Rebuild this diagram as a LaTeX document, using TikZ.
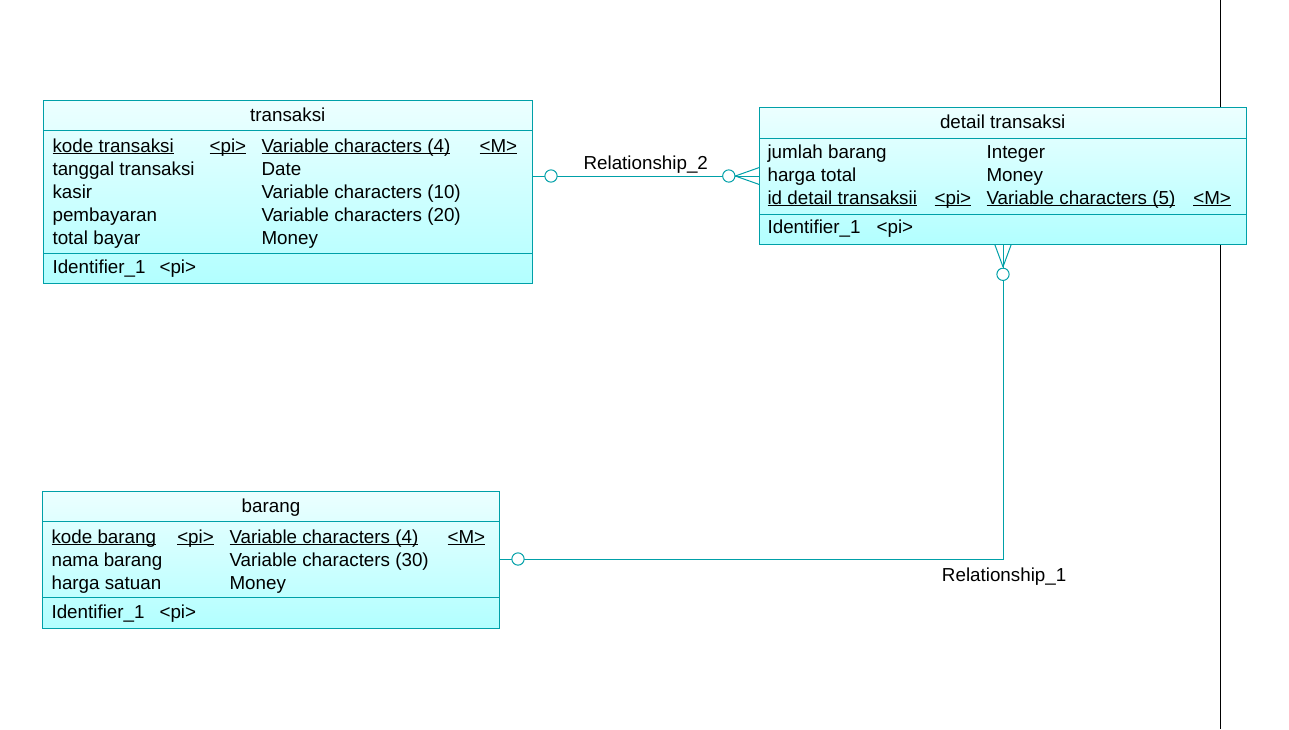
\documentclass[tikz,border=0pt]{standalone}
\usepackage{fontspec}
\setmainfont{Liberation Sans}
\usepackage{xcolor}
\usetikzlibrary{calc}

\definecolor{pdline}{RGB}{0,160,168}
\definecolor{pdtop}{RGB}{236,255,255}
\definecolor{pdbot}{RGB}{178,255,255}

\newcommand{\ulin}[1]{\setbox0\hbox{#1}\rlap{\rule[-1.6pt]{\wd0}{0.75pt}}\box0}

\tikzset{
  entity/.style={draw=pdline, line width=0.75pt, top color=pdtop, bottom color=pdbot},
  sepline/.style={draw=pdline, line width=0.75pt},
  rel/.style={draw=pdline, line width=0.75pt},
  knob/.style={draw=pdline, line width=0.75pt, fill=white},
  txt/.style={anchor=base west, inner sep=0pt, font=\fontsize{14.1}{16}\selectfont},
  ttl/.style={anchor=base, inner sep=0pt, font=\fontsize{14.1}{16}\selectfont},
}

\begin{document}
\begin{tikzpicture}[x=0.75pt,y=0.75pt,yscale=-1,xscale=1]
        \useasboundingbox (0,0) rectangle (1289,729);

        %Shape: Line [page border]
        \draw [line width=0.75pt] (1220.3,0) -- (1220.3,729) ;

        %Shape: Rectangle [transaksi]
        \draw [entity] (43.3,100.7) rectangle (532.3,283.3) ;
        \draw [sepline] (43.3,130.3) -- (532.3,130.3) ;
        \draw [sepline] (43.3,253.3) -- (532.3,253.3) ;
        % Text Node
        \node [ttl] (trTitle) at (287.8,121.7) {transaksi};
        \node [txt] (trA1) at (52.3,152.3) {\ulin{kode transaksi}};
        \node [txt] (trA1pi) at (209.3,152.3) {\ulin{<pi>}};
        \node [txt] (trA1t) at (261.3,152.3) {\ulin{Variable characters (4)}};
        \node [txt] (trA1m) at (479.3,152.3) {\ulin{<M>}};
        \node [txt] (trA2) at (52.3,175.3) {tanggal transaksi};
        \node [txt] (trA2t) at (261.3,175.3) {Date};
        \node [txt] (trA3) at (52.3,198.3) {kasir};
        \node [txt] (trA3t) at (261.3,198.3) {Variable characters (10)};
        \node [txt] (trA4) at (52.3,221.3) {pembayaran};
        \node [txt] (trA4t) at (261.3,221.3) {Variable characters (20)};
        \node [txt] (trA5) at (52.3,244.3) {total bayar};
        \node [txt] (trA5t) at (261.3,244.3) {Money};
        \node [txt] (trId) at (52.3,273.3) {Identifier\_1};
        \node [txt] (trIdpi) at (159.3,273.3) {<pi>};

        %Shape: Rectangle [detail transaksi]
        \draw [entity] (759.3,107.3) rectangle (1246,244.3) ;
        \draw [sepline] (759.3,138.3) -- (1246,138.3) ;
        \draw [sepline] (759.3,214.3) -- (1246,214.3) ;
        % Text Node
        \node [ttl] (dtTitle) at (1002.7,128.3) {detail transaksi};
        \node [txt] (dtA1) at (767.3,158.3) {jumlah barang};
        \node [txt] (dtA1t) at (986.3,158.3) {Integer};
        \node [txt] (dtA2) at (767.3,181.3) {harga total};
        \node [txt] (dtA2t) at (986.3,181.3) {Money};
        \node [txt] (dtA3) at (767.3,204.3) {\ulin{id detail transaksii}};
        \node [txt] (dtA3pi) at (934.3,204.3) {\ulin{<pi>}};
        \node [txt] (dtA3t) at (986.3,204.3) {\ulin{Variable characters (5)}};
        \node [txt] (dtA3m) at (1193,204.3) {\ulin{<M>}};
        \node [txt] (dtId) at (767.3,233.3) {Identifier\_1};
        \node [txt] (dtIdpi) at (876.3,233.3) {<pi>};

        %Shape: Rectangle [barang]
        \draw [entity] (42.3,491) rectangle (499.7,628.3) ;
        \draw [sepline] (42.3,521) -- (499.7,521) ;
        \draw [sepline] (42.3,597.3) -- (499.7,597.3) ;
        % Text Node
        \node [ttl] (brTitle) at (271,512.3) {barang};
        \node [txt] (brA1) at (51.3,543.3) {\ulin{kode barang}};
        \node [txt] (brA1pi) at (177,543.3) {\ulin{<pi>}};
        \node [txt] (brA1t) at (229.3,543.3) {\ulin{Variable characters (4)}};
        \node [txt] (brA1m) at (447.3,543.3) {\ulin{<M>}};
        \node [txt] (brA2) at (51.3,566.3) {nama barang};
        \node [txt] (brA2t) at (229.3,566.3) {Variable characters (30)};
        \node [txt] (brA3) at (51.3,589.3) {harga satuan};
        \node [txt] (brA3t) at (229.3,589.3) {Money};
        \node [txt] (brId) at (51.3,618.3) {Identifier\_1};
        \node [txt] (brIdpi) at (159.3,618.3) {<pi>};

        % connector ends
        \coordinate (trR) at (532.3,176);
        \coordinate (dtL) at (759.3,176);
        \coordinate (dtB) at (1003,244.3);
        \coordinate (brR) at (499.7,559);

        %Shape: Relationship_2
        \draw [rel] (trR) -- (dtL) ;
        \draw [rel] ($(dtL)+(-24,0)$) -- ($(dtL)+(0,-8.5)$) ;
        \draw [rel] ($(dtL)+(-24,0)$) -- ($(dtL)+(0,8.5)$) ;
        \draw [knob] ($(trR)+(18.7,0)$) circle [radius=4.6pt] ;
        \draw [knob] ($(dtL)+(-30.5,0)$) circle [radius=4.6pt] ;
        \node [txt] (rel2) at (583.3,169.3) {Relationship\_2};

        %Shape: Relationship_1
        \draw [rel] (brR) -| (dtB) ;
        \draw [rel] ($(dtB)+(0,22.5)$) -- ($(dtB)+(-8.3,0)$) ;
        \draw [rel] ($(dtB)+(0,22.5)$) -- ($(dtB)+(8.3,0)$) ;
        \draw [knob] ($(dtB)+(0,30)$) circle [radius=4.6pt] ;
        \draw [knob] ($(brR)+(18.3,0)$) circle [radius=4.6pt] ;
        \node [txt] (rel1) at (941.7,581) {Relationship\_1};

\end{tikzpicture}
\end{document}
